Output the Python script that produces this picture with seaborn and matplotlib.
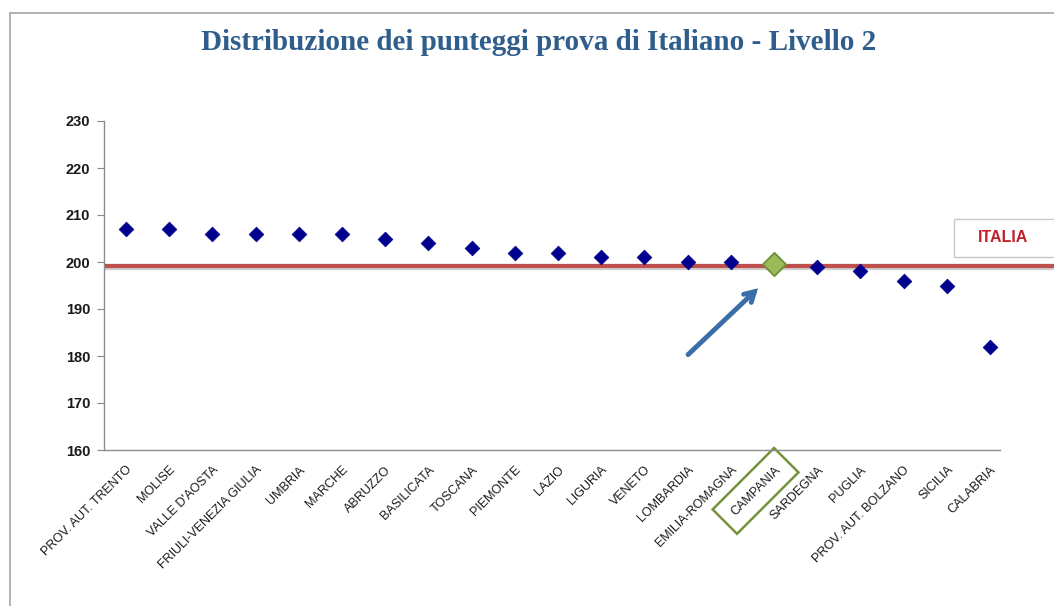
import matplotlib
matplotlib.use("Agg")
import matplotlib.pyplot as plt
import seaborn as sns
import pandas as pd
from matplotlib.patches import Rectangle

regions = ["PROV. AUT. TRENTO", "MOLISE", "VALLE D'AOSTA", "FRIULI-VENEZIA GIULIA",
           "UMBRIA", "MARCHE", "ABRUZZO", "BASILICATA", "TOSCANA", "PIEMONTE",
           "LAZIO", "LIGURIA", "VENETO", "LOMBARDIA", "EMILIA-ROMAGNA", "CAMPANIA",
           "SARDEGNA", "PUGLIA", "PROV. AUT. BOLZANO", "SICILIA", "CALABRIA"]
scores = [207, 207, 206, 206, 206, 206, 205, 204, 203, 202, 202, 201, 201, 200,
          200, 199.6, 199, 198, 196, 195, 182]
italia = 199.2
highlight = "CAMPANIA"
yticks = [160, 170, 180, 190, 200, 210, 220, 230]

sns.set_style("white")
plt.rcParams['font.family'] = ['Liberation Sans', 'DejaVu Sans']

fig = plt.figure(figsize=(10.54, 6.06), dpi=100)
ax = fig.add_axes([104/1054, 156/606, 896/1054, 329/606])

df = pd.DataFrame({"regione": regions, "punteggio": scores})
df["pos"] = range(len(regions))
df["hl"] = df["regione"] == highlight

x0, x1 = -0.51, len(regions) - 0.77

# Italia reference line with soft shadow, extending past the axis
ax.plot([x0, 23], [italia - 0.3, italia - 0.3], color="#cfcfcf", lw=4.5,
        clip_on=False, zorder=1, solid_capstyle="butt")
ax.plot([x0, 23], [italia, italia], color="#c0504d", lw=3.0,
        clip_on=False, zorder=2, solid_capstyle="butt")

sns.scatterplot(data=df[~df["hl"]], x="pos", y="punteggio", marker="D",
                s=55, color="#00008f", edgecolor="#00008f", ax=ax, zorder=3,
                legend=False)
sns.scatterplot(data=df[df["hl"]], x="pos", y="punteggio", marker="D",
                s=140, color="#9bbb59", edgecolor="#6f8f35", linewidth=1.3,
                ax=ax, zorder=4, legend=False)

ax.set_xlim(x0, x1)
ax.set_ylim(160, 230)
ax.set_yticks(yticks)
ax.set_yticklabels([str(v) for v in yticks], fontsize=10.5, fontweight="bold",
                   color="#1a1a1a")
ax.set_xlabel("")
ax.set_ylabel("")

ax.set_xticks(df["pos"])
labels = ax.set_xticklabels(regions, rotation=45, ha="right",
                            rotation_mode="anchor", fontsize=9, color="#1a1a1a")
for lab in labels:
    if lab.get_text() == highlight:
        lab.set_bbox(dict(boxstyle="square,pad=0.9", facecolor="none",
                          edgecolor="#77933c", linewidth=1.8))
ax.tick_params(axis="x", length=0, pad=10)
ax.tick_params(axis="y", length=5, width=0.8, color="#888888", left=True,
               direction="out", pad=5)

for s in ["top", "right"]:
    ax.spines[s].set_visible(False)
for s in ["left", "bottom"]:
    ax.spines[s].set_color("#8c8c8c")
    ax.spines[s].set_linewidth(1.0)

# Arrow pointing at highlighted region
ax.annotate("", xy=(14.63, 194.4), xytext=(13.01, 180.3),
            arrowprops=dict(arrowstyle="->,head_length=0.7,head_width=0.4",
                            color="#3b6ea8", lw=3.5, shrinkA=0, shrinkB=0,
                            capstyle="round", joinstyle="miter"))

# ITALIA label box
ax.add_patch(Rectangle((1.0 - 46/896, 193/329), 0.2, 38/329,
                       transform=ax.transAxes, facecolor="white",
                       edgecolor="#c8c8c8", lw=1.0, clip_on=False, zorder=5))
ax.text(1.0 + 3/896, (193 + 19)/329, "ITALIA", transform=ax.transAxes,
        ha="center", va="center", fontsize=11.5, fontweight="bold",
        color="#c0202a", zorder=6)

fig.text(539/1054, 1 - 43/606, "Distribuzione dei punteggi prova di Italiano - Livello 2",
         ha="center", va="center", fontsize=21, fontweight="bold",
         color="#2f5d8c", family=["Liberation Serif", "DejaVu Serif"])

# chart frame
fig.add_artist(Rectangle((10/1054, -0.2), 1.2, (606 - 13)/606 + 0.2,
                         transform=fig.transFigure, facecolor="none",
                         edgecolor="#a6a6a6", lw=1.2))

fig.savefig("out.png", dpi=100)
